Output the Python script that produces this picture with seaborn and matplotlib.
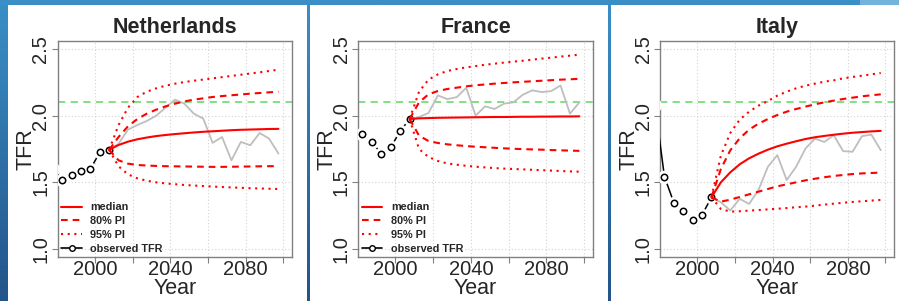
import numpy as np
import matplotlib
matplotlib.use("Agg")
import matplotlib.pyplot as plt
from matplotlib.colors import LinearSegmentedColormap
from matplotlib.lines import Line2D
import seaborn as sns

# observed periods (first one is just off the left edge of the axes)
obs_years = [1977.5, 1982.5, 1987.5, 1992.5, 1997.5, 2002.5, 2007.5]
proj_years = [2007.5, 2012.5, 2017.5, 2022.5, 2027.5, 2032.5, 2037.5, 2042.5,
              2047.5, 2052.5, 2057.5, 2062.5, 2067.5, 2072.5, 2077.5, 2082.5,
              2087.5, 2092.5, 2097.5]

countries = ["Netherlands", "France", "Italy"]

# Netherlands
nl_obs = [1.60, 1.515, 1.557, 1.582, 1.600, 1.724, 1.744]
nl_median = [1.744, 1.78, 1.805, 1.823, 1.836, 1.847, 1.855, 1.862, 1.868, 1.874,
             1.879, 1.883, 1.887, 1.891, 1.894, 1.896, 1.898, 1.900, 1.901]
nl_up80 = [1.744, 1.84, 1.92, 1.975, 2.015, 2.045, 2.07, 2.09, 2.107, 2.12,
           2.13, 2.14, 2.147, 2.153, 2.159, 2.165, 2.17, 2.175, 2.18]
nl_lo80 = [1.744, 1.665, 1.64, 1.63, 1.626, 1.623, 1.621, 1.62, 1.619, 1.618,
           1.617, 1.616, 1.616, 1.617, 1.618, 1.619, 1.62, 1.621, 1.622]
nl_up95 = [1.744, 1.93, 2.06, 2.14, 2.18, 2.205, 2.225, 2.24, 2.252, 2.262,
           2.271, 2.28, 2.289, 2.298, 2.307, 2.316, 2.325, 2.335, 2.345]
nl_lo95 = [1.744, 1.62, 1.56, 1.53, 1.512, 1.50, 1.492, 1.486, 1.48, 1.476,
           1.472, 1.468, 1.465, 1.462, 1.459, 1.456, 1.454, 1.452, 1.45]
nl_traj = [1.744, 1.79, 1.895, 1.93, 1.96, 2.00, 2.06, 2.12, 2.09, 2.015,
           1.978, 1.796, 1.84, 1.665, 1.803, 1.778, 1.87, 1.828, 1.716]

# France
fr_obs = [1.86, 1.866, 1.806, 1.711, 1.764, 1.883, 1.975]
fr_median = [1.975, 1.98, 1.982, 1.984, 1.985, 1.986, 1.987, 1.988, 1.989, 1.99,
             1.99, 1.991, 1.992, 1.992, 1.993, 1.993, 1.994, 1.994, 1.995]
fr_up80 = [1.975, 2.10, 2.16, 2.185, 2.20, 2.21, 2.22, 2.228, 2.234, 2.24,
           2.245, 2.25, 2.254, 2.258, 2.262, 2.266, 2.27, 2.273, 2.276]
fr_lo80 = [1.975, 1.85, 1.81, 1.795, 1.785, 1.778, 1.772, 1.767, 1.763, 1.759,
           1.755, 1.752, 1.749, 1.747, 1.745, 1.742, 1.74, 1.738, 1.736]
fr_up95 = [1.975, 2.18, 2.27, 2.31, 2.335, 2.35, 2.362, 2.372, 2.382, 2.39,
           2.398, 2.405, 2.412, 2.42, 2.428, 2.435, 2.443, 2.45, 2.458]
fr_lo95 = [1.975, 1.75, 1.69, 1.66, 1.642, 1.632, 1.624, 1.617, 1.612, 1.607,
           1.603, 1.60, 1.597, 1.594, 1.591, 1.588, 1.585, 1.582, 1.58]
fr_traj = [1.975, 1.99, 2.02, 2.152, 2.124, 2.139, 2.209, 2.00, 2.07, 2.05,
           2.09, 2.10, 2.157, 2.19, 2.177, 2.184, 2.226, 2.015, 2.10]

# Italy
it_obs = [2.08, 1.542, 1.348, 1.286, 1.219, 1.256, 1.388]
it_median = [1.388, 1.50, 1.575, 1.635, 1.68, 1.715, 1.745, 1.77, 1.79, 1.808,
             1.825, 1.838, 1.848, 1.857, 1.865, 1.872, 1.877, 1.882, 1.886]
it_up80 = [1.388, 1.60, 1.74, 1.83, 1.895, 1.94, 1.975, 2.005, 2.03, 2.05,
           2.068, 2.085, 2.10, 2.113, 2.125, 2.135, 2.145, 2.153, 2.16]
it_lo80 = [1.388, 1.355, 1.37, 1.39, 1.41, 1.43, 1.45, 1.47, 1.485, 1.50,
           1.515, 1.527, 1.538, 1.548, 1.555, 1.562, 1.567, 1.57, 1.573]
it_up95 = [1.388, 1.70, 1.87, 1.97, 2.03, 2.075, 2.11, 2.15, 2.18, 2.205,
           2.225, 2.24, 2.255, 2.265, 2.28, 2.29, 2.30, 2.31, 2.32]
it_lo95 = [1.388, 1.30, 1.28, 1.283, 1.288, 1.292, 1.297, 1.302, 1.307, 1.313,
           1.318, 1.325, 1.333, 1.34, 1.347, 1.353, 1.358, 1.363, 1.368]
it_traj = [1.388, 1.35, 1.289, 1.376, 1.338, 1.443, 1.617, 1.704, 1.517, 1.617,
           1.754, 1.828, 1.803, 1.853, 1.734, 1.729, 1.846, 1.858, 1.741]

replacement_level = 2.1

panels = [
    (nl_obs, nl_median, nl_up80, nl_lo80, nl_up95, nl_lo95, nl_traj),
    (fr_obs, fr_median, fr_up80, fr_lo80, fr_up95, fr_lo95, fr_traj),
    (it_obs, it_median, it_up80, it_lo80, it_up95, it_lo95, it_traj),
]
show_legend = [True, True, False]

sns.set_style("white")
plt.rcParams["font.family"] = ["Liberation Sans", "DejaVu Sans"]

W, H = 899, 301
fig = plt.figure(figsize=(W / 100, H / 100), dpi=100)
fig.patch.set_facecolor("white")

# slide decoration: blue frame bands
def band(x0, y0, w, h, top, bottom):
    bax = fig.add_axes([x0 / W, 1 - (y0 + h) / H, w / W, h / H])
    cmap = LinearSegmentedColormap.from_list("b", [top, bottom])
    bax.imshow(np.linspace(0, 1, 50)[:, None], aspect="auto", cmap=cmap,
               extent=[0, 1, 0, 1])
    bax.set_axis_off()

band(0, 0, W, 5.5, "#3a8fc6", "#3a8fc6")
band(860, 0, 39, 5.5, "#74b3dc", "#74b3dc")
band(0, 0, 7.5, H, "#3a8fc6", "#23558a")
band(307, 0, 2.6, H, "#3a8fc6", "#23558a")
band(608, 0, 2.6, H, "#3a8fc6", "#23558a")

axes_px = [(58, 234), (358.3, 234.7), (660.3, 234)]
red = "#ff0000"
dash80 = (0, (3.2, 2.4))
dot95 = (0, (1.0, 2.2))

for (left, width), name, data, leg in zip(axes_px, countries, panels, show_legend):
    obs, med, up80, lo80, up95, lo95, traj = data
    ax = fig.add_axes([left / W, 44 / H, width / W, 216 / H])

    ax.grid(True, color="#d3d3d3", linestyle=(0, (1, 2)), linewidth=0.8)
    ax.axhline(replacement_level, color="#77dd77", linestyle=(0, (4, 3)), lw=1.3, zorder=2)

    # observed TFR, R type="b" look: line, white gap, open circle
    sns.lineplot(x=obs_years, y=obs, ax=ax, color="black", lw=1.1, zorder=3)
    sns.lineplot(x=obs_years, y=obs, ax=ax, color="white", lw=0, marker="o",
                 markersize=9, markerfacecolor="white", markeredgecolor="white", zorder=4)
    sns.lineplot(x=obs_years, y=obs, ax=ax, color="black", lw=0, marker="o",
                 markersize=4.6, markerfacecolor="white", markeredgecolor="black",
                 markeredgewidth=1.1, zorder=5)

    # one simulated trajectory
    sns.lineplot(x=proj_years, y=traj, ax=ax, color="#bebebe", lw=1.3, zorder=5)

    sns.lineplot(x=proj_years, y=up95, ax=ax, color=red, lw=1.5, linestyle=dot95, zorder=6)
    sns.lineplot(x=proj_years, y=lo95, ax=ax, color=red, lw=1.5, linestyle=dot95, zorder=6)
    sns.lineplot(x=proj_years, y=up80, ax=ax, color=red, lw=1.5, linestyle=dash80, zorder=6)
    sns.lineplot(x=proj_years, y=lo80, ax=ax, color=red, lw=1.5, linestyle=dash80, zorder=6)
    sns.lineplot(x=proj_years, y=med, ax=ax, color=red, lw=1.5, zorder=7)

    ax.set_xlim(1980.3, 2104.7)
    ax.set_ylim(0.94, 2.56)
    ax.set_xticks([2000, 2020, 2040, 2060, 2080, 2100])
    ax.set_xticklabels(["2000", "", "2040", "", "2080", ""])
    ax.set_yticks([1.0, 1.5, 2.0, 2.5])
    ax.set_yticklabels(["1.0", "1.5", "2.0", "2.5"], rotation=90, va="center")
    ax.tick_params(axis="both", direction="out", length=4, width=0.8,
                   color="#808080", labelsize=14.5, bottom=True, left=True)
    ax.tick_params(axis="x", pad=-1.5)
    ax.tick_params(axis="y", pad=1.5)
    for s in ax.spines.values():
        s.set_color("#808080")
        s.set_linewidth(1.0)

    ax.set_title(name, fontsize=15.5, fontweight="bold", pad=6)
    ax.set_xlabel("Year", fontsize=15.5, labelpad=-1)
    ax.set_ylabel("TFR", fontsize=15.5, labelpad=-4)

    if leg:
        handles = [
            Line2D([], [], color=red, lw=1.5),
            Line2D([], [], color=red, lw=1.5, linestyle=dash80),
            Line2D([], [], color=red, lw=1.5, linestyle=dot95),
            Line2D([], [], color="black", lw=1.2, marker="o", markersize=4,
                   markerfacecolor="white", markeredgewidth=1.0),
        ]
        ax.legend(handles, ["median", "80% PI", "95% PI", "observed TFR"],
                  loc="lower left", frameon=False, prop={"size": 7.8, "weight": "bold"},
                  handlelength=1.9, handletextpad=0.8, labelspacing=0.35,
                  borderaxespad=0.1, borderpad=0.2)

fig.savefig("out.png", dpi=100)
